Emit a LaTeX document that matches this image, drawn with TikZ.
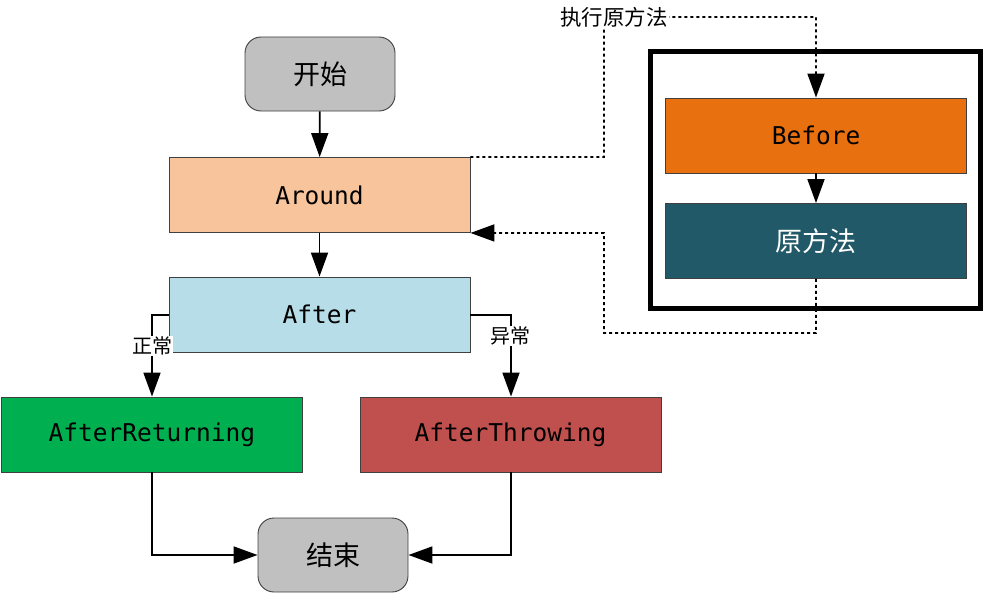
\documentclass[tikz,border=0pt]{standalone}
\usepackage{fontspec}
\newfontfamily\cjk{Noto Sans CJK SC}
\newfontfamily\mono{DejaVu Sans Mono}
\usetikzlibrary{arrows.meta}
\definecolor{cgray}{HTML}{C0C0C0}
\definecolor{cpeach}{HTML}{F8C49C}
\definecolor{cblue}{HTML}{B7DDE8}
\definecolor{cgreen}{HTML}{00B050}
\definecolor{cred}{HTML}{C0504D}
\definecolor{corange}{HTML}{E8700F}
\definecolor{cteal}{HTML}{215968}
\definecolor{cborder}{HTML}{404040}
\tikzset{
  box/.style={draw=cborder, line width=0.9pt, minimum width=301pt, minimum height=75pt, inner sep=0pt, font=\mono\fontsize{24.5}{28}\selectfont},
  term/.style={draw=cborder, line width=0.9pt, rounded corners=16pt, fill=cgray, minimum width=150pt, minimum height=74pt, inner sep=0pt, font=\cjk\fontsize{27}{30}\selectfont},
  tip/.style={-{Triangle[length=24pt,width=17pt]}},
  arr/.style={tip, line width=1.8pt},
  dotarr/.style={tip, line width=1.8pt, dash pattern=on 3pt off 3pt},
  lbl/.style={fill=white, inner sep=1pt, font=\cjk\fontsize{20}{22}\selectfont}
}
\begin{document}
\begin{tikzpicture}[x=1pt,y=-1pt]
\useasboundingbox (0,0) rectangle (986,594);
% main flow
\node[term] (start) at (320,74) {开始};
\node[box, fill=cpeach] (around) at (319.5,195) {Around};
\node[box, fill=cblue] (after) at (319.5,314.5) {After};
\node[box, fill=cgreen] (ret) at (152,434.5) {AfterReturning};
\node[box, fill=cred] (thr) at (510.5,434.5) {AfterThrowing};
\node[term] (end) at (333,555) {结束};
% right frame
\node[draw=black, line width=5pt, minimum width=330pt, minimum height=256pt, inner sep=0pt] (frame) at (815,180) {};
\node[box, fill=corange] (before) at (816,135.5) {Before};
\node[box, fill=cteal, text=white, font=\cjk\fontsize{27}{30}\selectfont] (orig) at (816,241) {原方法};
% connectors
\draw[arr] (start) -- (around);
\draw[arr] (around) -- (after);
\draw[arr] (before) -- (orig);
\coordinate (la) at (152,315);
\coordinate (ra) at (511,315);
\draw[arr] (after.west |- la) -- (la) -- (ret.north -| la);
\draw[arr] (after.east |- ra) -- (ra) -- (thr.north -| ra);
\node[lbl] at (152,346) {正常};
\node[lbl] at (510,336) {异常};
\coordinate (lb) at (152,555);
\coordinate (rb) at (511,555);
\draw[arr] (ret.south -| lb) -- (lb) -- (end.west);
\draw[arr] (thr.south -| rb) -- (rb) -- (end.east);
% dotted loop
\coordinate (d1) at (604,157);
\coordinate (d2) at (604,17);
\coordinate (d3) at (816,17);
\draw[dotarr] (around.north east) -- (d1) -- (d2) -- (d3) -- (before.north);
\node[lbl, font=\cjk\fontsize{21.5}{23}\selectfont] at (614,17) {执行原方法};
\coordinate (e1) at (816,333);
\coordinate (e2) at (604,333);
\coordinate (e3) at (604,233);
\draw[dotarr] (orig.south) -- (e1) -- (e2) -- (e3) -- (around.south east);
\end{tikzpicture}
\end{document}
